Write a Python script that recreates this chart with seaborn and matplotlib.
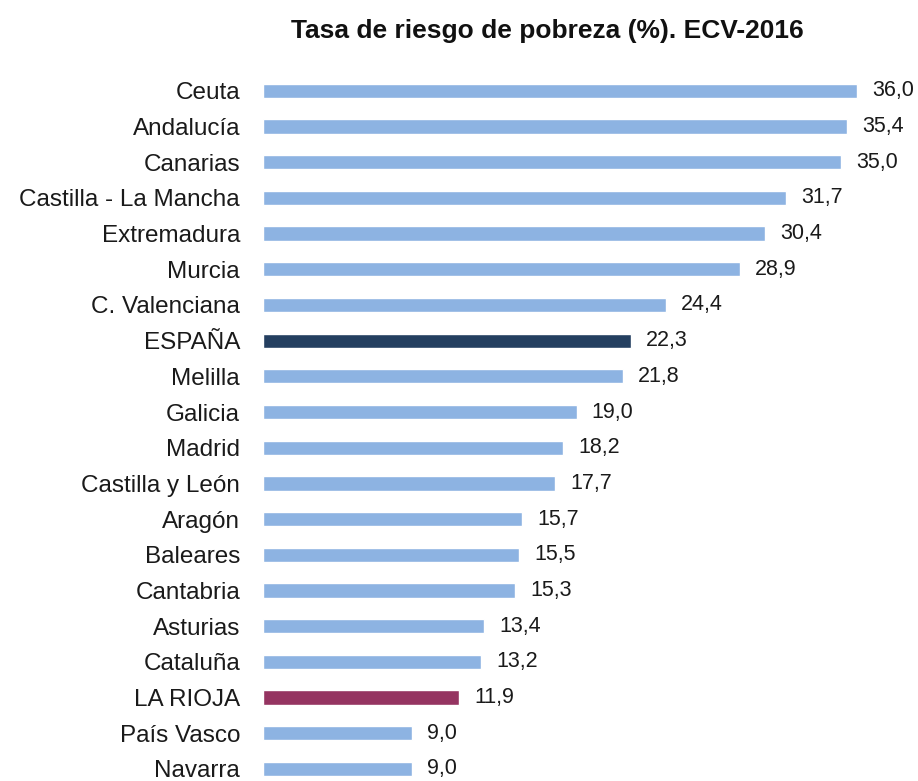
import matplotlib
matplotlib.use("Agg")
import matplotlib.pyplot as plt
import seaborn as sns
import pandas as pd

regions = ["Ceuta", "Andalucía", "Canarias", "Castilla - La Mancha", "Extremadura",
           "Murcia", "C. Valenciana", "ESPAÑA", "Melilla", "Galicia", "Madrid",
           "Castilla y León", "Aragón", "Baleares", "Cantabria", "Asturias",
           "Cataluña", "LA RIOJA", "País Vasco", "Navarra"]
values = [36.0, 35.4, 35.0, 31.7, 30.4, 28.9, 24.4, 22.3, 21.8, 19.0, 18.2,
          17.7, 15.7, 15.5, 15.3, 13.4, 13.2, 11.9, 9.0, 9.0]
title = "Tasa de riesgo de pobreza (%). ECV-2016"

base_color = "#8DB3E2"
highlight = {"ESPAÑA": "#243F60", "LA RIOJA": "#953461"}
palette = {r: highlight.get(r, base_color) for r in regions}

df = pd.DataFrame({"region": regions, "value": values})

sns.set_theme(style="white")
plt.rcParams["font.family"] = ["Liberation Sans", "DejaVu Sans"]

fig = plt.figure(figsize=(9.18, 7.81), dpi=100)
ax = fig.add_axes([263 / 918, 0.0, (900 - 263) / 918, 1 - 73 / 781])

sns.barplot(data=df, x="value", y="region", hue="region", palette=palette,
            order=regions, hue_order=regions, legend=False, width=0.4,
            saturation=1, ax=ax)

for cont in ax.containers:
    ax.bar_label(cont, labels=[f"{v:.1f}".replace(".", ",") for v in cont.datavalues],
                 padding=11, fontsize=15.5, color="#1a1a1a")

ax.set_xlim(0, 38.6)
ax.set_ylim(19.34, -0.5)
ax.set_xlabel("")
ax.set_ylabel("")
ax.set_xticks([])
for s in ax.spines.values():
    s.set_visible(False)
ax.tick_params(axis="y", length=0, pad=16.5, labelsize=17.5, labelcolor="#1a1a1a")

fig.text(547 / 918, 1 - 31 / 781, title, ha="center", va="center",
         fontsize=19, fontweight="bold", color="#111111")

fig.savefig("out.png", dpi=100)
